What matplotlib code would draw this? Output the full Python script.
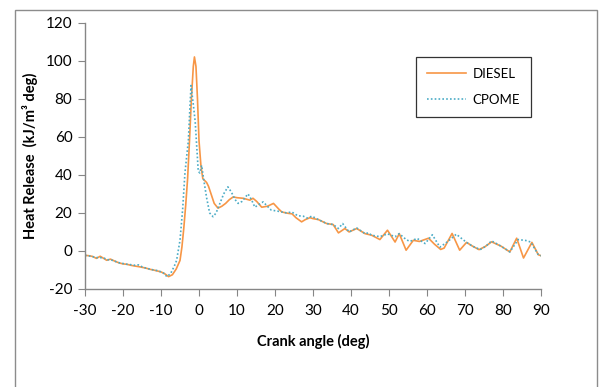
import matplotlib
matplotlib.use("Agg")
import matplotlib.pyplot as plt
from matplotlib.patches import Rectangle

plt.rcParams['font.family'] = ['Lato', 'DejaVu Sans']
plt.rcParams['axes.unicode_minus'] = False

# DIESEL heat release
diesel_x = [-30, -29, -28, -27, -26, -25, -24.3, -23.3, -22, -21, -20, -19, -18, -17, -16, -15, -14, -13, -12, -11, -10, -9, -8, -7, -6, -5, -4.5, -4, -3.5, -3, -2.5, -2, -1.5, -1.2, -0.8, -0.4, 0, 0.5, 1, 1.5, 2, 2.5, 3, 4, 5, 6, 7, 8, 9, 10, 11.6, 13.4, 14.2, 15.2, 16.5, 18, 19.6, 21, 21.8, 23.4, 24.5, 25.5, 27, 28, 29.2, 30, 31.4, 33.6, 35.3, 36.7, 38.4, 39.5, 41.5, 43.7, 45.4, 47.6, 49.6, 51.6, 52.7, 54.5, 56.4, 58, 60.4, 62, 63.6, 64.5, 66.6, 68.6, 70.4, 72, 73.7, 75.3, 77, 79.5, 81.8, 83.6, 85.4, 87.6, 89.3, 90]
diesel_y = [-2.3, -2.5, -2.9, -3.9, -2.8, -4, -4.9, -4.3, -5.5, -6.3, -6.8, -7, -7.5, -7.9, -8.2, -8.6, -9, -9.6, -10, -10.5, -11, -12, -13.5, -12.5, -9.5, -5, 2, 12, 24, 38, 58, 80, 97, 102, 97, 80, 58, 45, 38, 37, 36, 34, 31, 25, 22.5, 23.5, 25, 27, 28.4, 28, 27.7, 26.7, 27.7, 26, 23, 23.5, 25, 22, 20.5, 19.8, 19.5, 17.5, 15.3, 16.5, 17.5, 17, 16.5, 14.4, 13.9, 9.5, 11.8, 10, 11.8, 9.1, 8.3, 6, 10.9, 4.7, 9.1, 0.4, 5.6, 5, 6.7, 3.5, 0.8, 1.5, 9.2, 0.4, 4.5, 2.5, 0.7, 2.3, 4.8, 2.5, -0.5, 6.7, -3.7, 4.5, -2, -2.5]

# CPOME heat release
cpome_x = [-30, -29, -28, -27, -26, -25, -24, -23, -22, -21, -20, -19, -18, -17, -16, -15, -14, -13, -12, -11, -10, -9, -8.5, -7.5, -7, -6.5, -5.9, -5, -4.3, -3.7, -2.8, -2.4, -2.1, -1.5, -1, -0.2, 0.2, 0.7, 1.2, 2, 2.8, 3.7, 4.5, 5.5, 6.5, 7.6, 8.5, 9.5, 10.3, 11.3, 12.9, 13.8, 14.7, 15.8, 16.9, 18, 19, 20.5, 21.8, 23, 24.4, 26, 27.4, 28.5, 29.7, 31.4, 33.6, 35.3, 36.7, 37.8, 39.5, 41.5, 43.7, 44.6, 45.4, 47.6, 49.6, 51.6, 52.7, 54.5, 55.5, 57.4, 59.5, 61.4, 63.4, 65.5, 67.7, 70.4, 72, 74, 75.5, 77, 79.5, 81.8, 84, 86, 87.3, 89.3, 90]
cpome_y = [-2.3, -2.6, -3, -3.5, -3.5, -3.8, -4.6, -4.8, -5.5, -6.2, -6.6, -7, -7.2, -7.5, -7.3, -8.3, -9, -9.5, -10, -10.3, -11, -12, -13.5, -12, -10, -8, -5, 5.6, 22, 41, 58, 75, 87, 77, 68, 42, 41, 45, 38, 28, 20, 18, 20, 25, 30, 33.7, 31, 27, 25, 26, 30, 27, 23, 24.5, 25.8, 23.5, 21.5, 21, 20.5, 20, 20.5, 18.5, 18.3, 17.3, 18.3, 16.5, 14.4, 13.9, 11.8, 14.4, 10, 12.1, 9.1, 9.5, 8.3, 7.5, 9, 7.5, 9.1, 6, 5, 6.6, 3.9, 8.5, 2, 5, 8.8, 4.5, 2.5, 0.7, 2.5, 5.3, 2.5, -0.5, 6, 5.5, 4.7, -2, -2.5]

x_ticks = list(range(-30, 91, 10))
y_ticks = list(range(-20, 121, 20))

fig = plt.figure(figsize=(5.99, 3.87), dpi=100)
fig.patch.set_facecolor('white')
# outer chart border
fig.patches.append(Rectangle((15/599, -0.05), 582/599, 1.05 - 10/387, transform=fig.transFigure,
                             fill=False, edgecolor='#8c8c8c', linewidth=1.0))

ax = fig.add_axes([85/599, 1 - 289/387, 456/599, (289 - 22.7)/387])
ax.plot(diesel_x, diesel_y, color='#F79646', lw=1.2, label='DIESEL')
ax.plot(cpome_x, cpome_y, color='#4BACC6', lw=1.2, linestyle=(0, (1, 1.3)), label='CPOME')

ax.set_xlim(-30, 90)
ax.set_ylim(-20, 120)
ax.set_xticks(x_ticks)
ax.set_yticks(y_ticks)
for s in ['top', 'right']:
    ax.spines[s].set_visible(False)
for s in ['left', 'bottom']:
    ax.spines[s].set_color('#868686')
    ax.spines[s].set_linewidth(1.0)
ax.tick_params(axis='both', direction='out', length=5, color='#868686', labelsize=11, pad=4)
ax.tick_params(axis='x', pad=6)

ax.set_xlabel('Crank angle (deg)', fontsize=10.5, fontweight='bold', labelpad=11)
ax.set_ylabel('Heat Release  (kJ/m³ deg)', fontsize=10.5, fontweight='bold', labelpad=6)

leg = ax.legend(loc='upper left', bbox_to_anchor=((416-85)/456, 1 - (57-22.7)/266.3),
                fontsize=9.5, frameon=True, fancybox=False, borderpad=0.8,
                labelspacing=1.1, handlelength=3.0, handletextpad=0.5, borderaxespad=0)
leg.get_frame().set_edgecolor('black')
leg.get_frame().set_linewidth(0.9)

fig.savefig('out.png', dpi=100)
